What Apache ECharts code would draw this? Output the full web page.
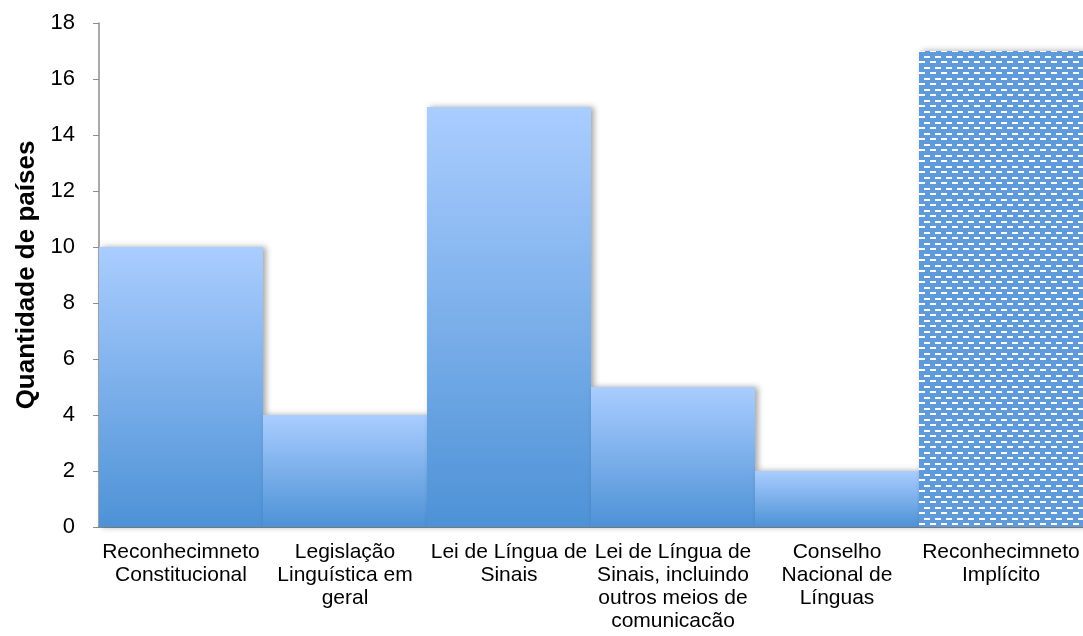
<!DOCTYPE html>
<html lang="pt">
<head>
<meta charset="UTF-8">
<title>Quantidade de países</title>
<style>
html, body { margin: 0; padding: 0; width: 100%; height: 100%; background: #fff; }
#chart { width: 1083px; height: 636px; }
</style>
</head>
<body>
<div id="chart"></div>
<script src="https://cdn.jsdelivr.net/npm/echarts@6/dist/echarts.min.js"></script>
<script>
var categories = [
  'Reconhecimneto\nConstitucional',
  'Legislação\nLinguística em\ngeral',
  'Lei de Língua de\nSinais',
  'Lei de Língua de\nSinais, incluindo\noutros meios de\ncomunicacão',
  'Conselho\nNacional de\nLínguas',
  'Reconhecimneto\nImplícito'
];
var values = [10, 4, 15, 5, 2, 17];
var patterned = [false, false, false, false, false, true];

// dashed pattern for the last bar
function makePattern() {
  var c = document.createElement('canvas');
  c.width = 11; c.height = 11;
  var g = c.getContext('2d');
  g.fillStyle = '#5f9bdb';
  g.fillRect(0, 0, 11, 11);
  g.fillStyle = '#ffffff';
  g.fillRect(0, 1, 6, 2);
  g.fillRect(6, 6, 5, 2);
  g.fillRect(0, 6, 1, 2);
  return c;
}
var pattern = makePattern();

var gradient = new echarts.graphic.LinearGradient(0, 0, 0, 1, [
  { offset: 0, color: '#aacdff' },
  { offset: 1, color: '#4d92d6' }
]);

var barData = values.map(function (v, i) {
  return {
    value: v,
    itemStyle: {
      color: patterned[i] ? { image: pattern, repeat: 'repeat' } : gradient
    }
  };
});

var chart = echarts.init(document.getElementById('chart'));
chart.setOption({
  animation: false,
  textStyle: { fontFamily: 'Liberation Sans, Arial, sans-serif' },
  grid: { left: 99, right: 0, top: 23, bottom: 109, containLabel: false },
  xAxis: {
    type: 'category',
    data: categories,
    axisLine: { lineStyle: { color: '#8c8c8c', width: 2 } },
    axisTick: { show: false },
    axisLabel: {
      interval: 0,
      margin: 14,
      color: '#000',
      fontSize: 21,
      lineHeight: 23,
      fontFamily: 'Liberation Sans'
    }
  },
  yAxis: {
    type: 'value',
    min: 0,
    max: 18,
    interval: 2,
    name: 'Quantidade de países',
    nameLocation: 'middle',
    nameGap: 58,
    nameTextStyle: { fontSize: 26, fontWeight: 'bold', color: '#000', fontFamily: 'Liberation Sans' },
    axisLine: { show: true, lineStyle: { color: '#8c8c8c', width: 1.5 } },
    axisTick: { show: true, length: 6, lineStyle: { color: '#8c8c8c' } },
    splitLine: { show: false },
    axisLabel: { margin: 24, fontSize: 22, color: '#000', fontFamily: 'Liberation Sans' }
  },
  series: [{
    type: 'bar',
    data: barData,
    barCategoryGap: '0%',
    itemStyle: {
      shadowColor: 'rgba(0,0,0,0.35)',
      shadowBlur: 6,
      shadowOffsetX: 3,
      shadowOffsetY: 0
    }
  }]
});
</script>
</body>
</html>
